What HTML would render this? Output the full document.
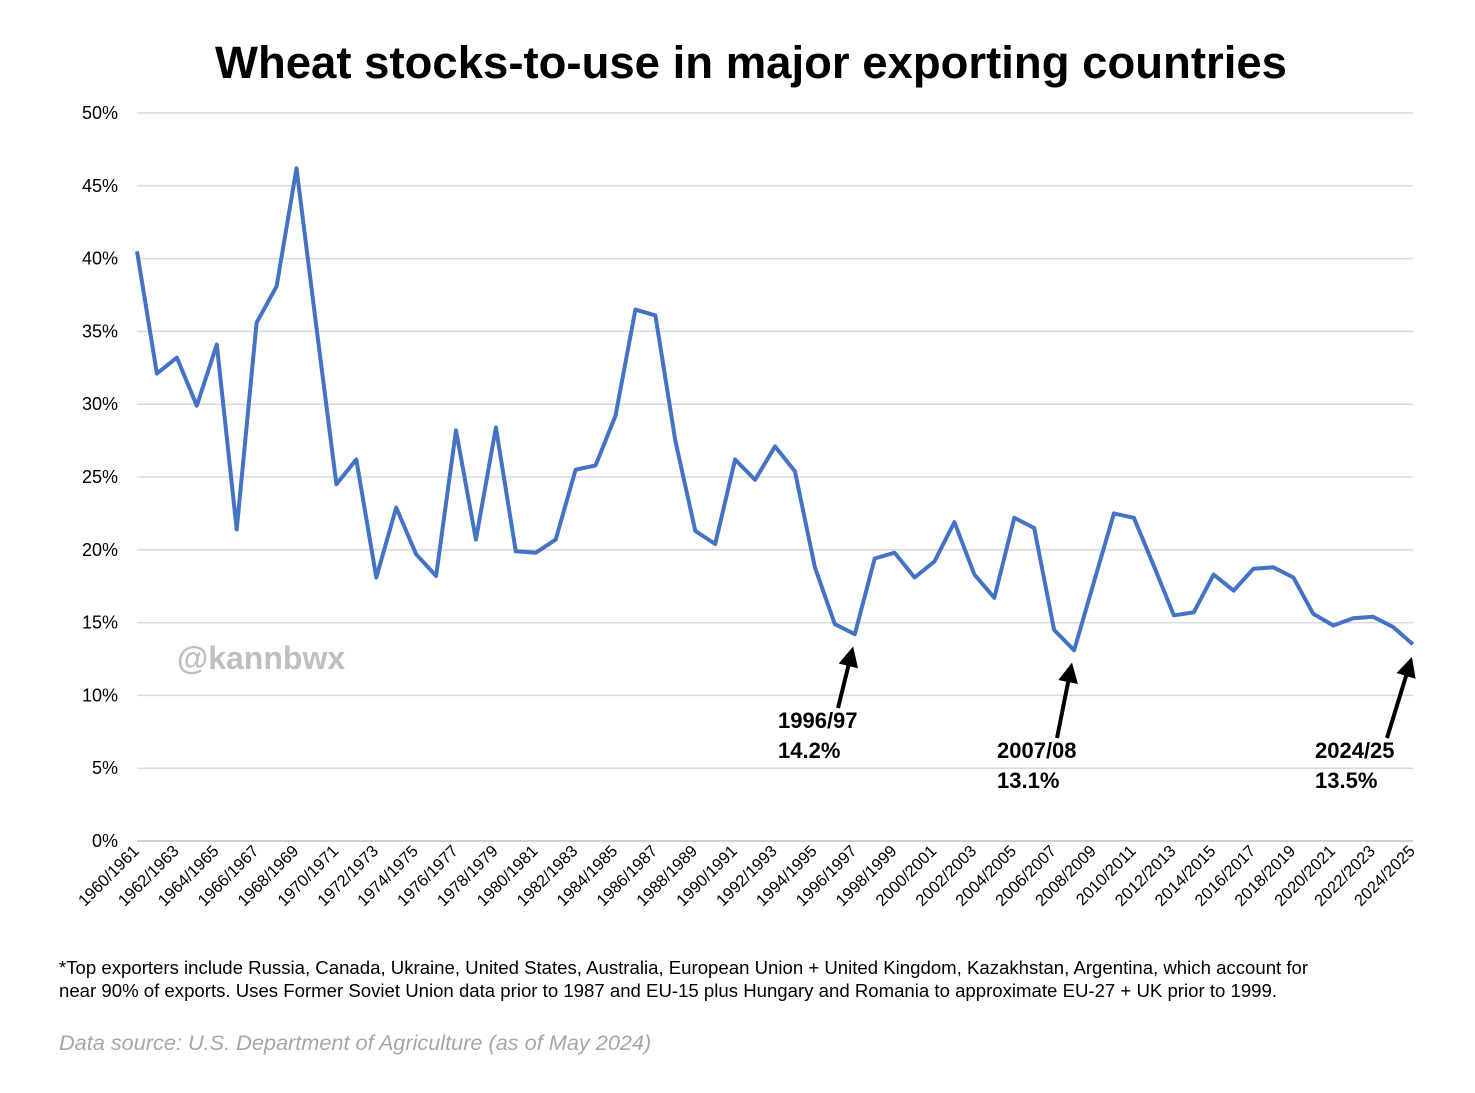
<!DOCTYPE html>
<html><head><meta charset="utf-8"><style>
body{margin:0;background:#fff;font-family:"Liberation Sans",Arial,sans-serif;}
svg{display:block}
</style></head><body>
<svg id="chart" width="1475" height="1093" viewBox="0 0 1475 1093" xmlns="http://www.w3.org/2000/svg" font-family="Liberation Sans, Arial, sans-serif">
<text x="751" y="78" text-anchor="middle" font-size="45.5" font-weight="bold">Wheat stocks-to-use in major exporting countries</text>
<g id="grid"></g>
<g id="yticks"></g>
<g id="xticks"></g>
<text x="177" y="669" font-size="32" font-weight="bold" fill="#bfbfbf">@kannbwx</text>
<path id="line" fill="none" stroke="#4472C4" stroke-width="4" stroke-linejoin="round"/>
<g id="annots"></g>
<text font-size="18.6" fill="#000"><tspan x="59" y="974">*Top exporters include Russia, Canada, Ukraine, United States, Australia, European Union + United Kingdom, Kazakhstan, Argentina, which account for</tspan><tspan x="59" y="997">near 90% of exports. Uses Former Soviet Union data prior to 1987 and EU-15 plus Hungary and Romania to approximate EU-27 + UK prior to 1999.</tspan></text>
<text x="59" y="1050" font-size="21.7" font-style="italic" fill="#a6a6a6">Data source: U.S. Department of Agriculture (as of May 2024)</text>
</svg>
<script>
const startYear = 1960;
const values = [40.5,32.1,33.2,29.9,34.1,21.4,35.6,38.1,46.2,35.3,24.5,26.2,18.1,22.9,19.7,18.2,28.2,20.7,28.4,19.9,19.8,20.7,25.5,25.8,29.2,36.5,36.1,27.5,21.3,20.4,26.2,24.8,27.1,25.4,18.8,14.9,14.2,19.4,19.8,18.1,19.2,21.9,18.3,16.7,22.2,21.5,14.5,13.1,17.8,22.5,22.2,18.9,15.5,15.7,18.3,17.2,18.7,18.8,18.1,15.6,14.8,15.3,15.4,14.7,13.5];
const yTicks = [0,5,10,15,20,25,30,35,40,45,50];
const annotations = [{i:36,label:"1996/97",val:"14.2%"},{i:47,label:"2007/08",val:"13.1%"},{i:64,label:"2024/25",val:"13.5%"}];
const annotText = [[778,728],[997,758],[1315,758]];
const NS="http://www.w3.org/2000/svg";
const x0=137,x1=1413,yb=841,yt=113;
const n=values.length;
const X=i=>x0+(x1-x0)*i/(n-1);
const Y=v=>yb-(yb-yt)*v/50;
function mk(t,a,p){const e=document.createElementNS(NS,t);for(const k in a)e.setAttribute(k,a[k]);p.appendChild(e);return e;}
const grid=document.getElementById('grid'),yt_=document.getElementById('yticks'),xt=document.getElementById('xticks');
yTicks.forEach(v=>{
  const l=mk('line',{x1:x0,x2:x1,y1:Y(v),y2:Y(v),stroke:v===0?'#bfbfbf':'#d9d9d9','stroke-width':1.5},grid);
  
  
  const t=mk('text',{x:118,y:Y(v)+6,'text-anchor':'end','font-size':18},yt_);
  t.textContent=v+'%';
  
  
});
for(let i=0;i<n;i+=2){
  const y=startYear+i;
  const t=mk('text',{x:X(i)+3,y:852,'text-anchor':'end','font-size':16.5,transform:`rotate(-45 ${X(i)+3} 852)`},xt);
  t.textContent=y+'/'+(y+1);
  
  
}
document.getElementById('line').setAttribute('d',values.map((v,i)=>(i?'L':'M')+X(i).toFixed(1)+','+Y(v).toFixed(1)).join(''));
const an=document.getElementById('annots');
mk('defs',{},an).innerHTML='<marker id="ah" markerWidth="5" markerHeight="5" refX="2.5" refY="2.5" orient="auto" markerUnits="strokeWidth"><path d="M0,0L5,2.5L0,5z" fill="#000"/></marker>';
annotations.forEach((a,k)=>{
  const [tx,ty]=annotText[k];
  const px=X(a.i),py=Y(values[a.i])+12;
  const sx=tx+(k===2?72:60),sy=ty-20;
  const l=mk('line',{x1:sx,y1:sy,x2:px-4,y2:py+10,stroke:'#000','stroke-width':4,'marker-end':'url(#ah)'},an);
  
  
  const t=mk('text',{x:tx,y:ty,'font-size':22,'font-weight':'bold'},an);
  t.innerHTML=`<tspan x="${tx}" y="${ty}">${a.label}</tspan><tspan x="${tx}" y="${ty+30}">${a.val}</tspan>`;
  
  
});
</script>
</body></html>
